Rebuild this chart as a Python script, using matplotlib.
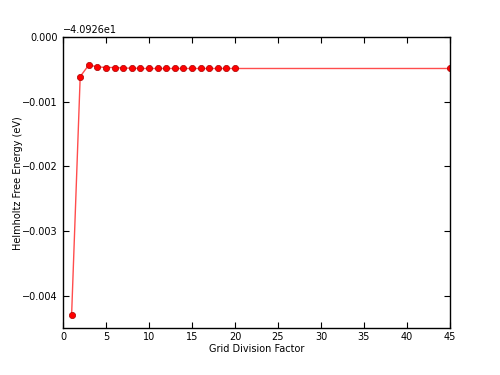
import numpy as np
from matplotlib import pyplot as plt
from matplotlib.ticker import ScalarFormatter

offset = -40.926

grid_factor = [1, 2, 3, 4, 5, 6, 7, 8, 9, 10, 11, 12, 13, 14, 15, 16, 17, 18, 19, 20, 45]
# free energy relative to offset (eV)
free_energy = [-0.00430, -0.00061, -0.00043, -0.00046, -0.00047, -0.00047, -0.00048,
               -0.00048, -0.000485, -0.000485, -0.000485, -0.000485, -0.000485,
               -0.000485, -0.000485, -0.000485, -0.000485, -0.000485, -0.000485,
               -0.000485, -0.000485]

energy = np.array(free_energy) + offset

fig = plt.figure(figsize=(5, 3.75), dpi=100)
fig.patch.set_facecolor('white')
ax = fig.add_axes([0.126, 0.125, 0.774, 0.776])

ax.plot(grid_factor, energy, '-', color='red', lw=1, alpha=0.7)
ax.plot(grid_factor, energy, 'o', color='red', markersize=4.5,
        markeredgecolor='#aa0000', markeredgewidth=0.5)

ax.set_xlim(0, 45)
ax.set_ylim(offset - 0.0045, offset + 0.0)
ax.set_xticks(np.arange(0, 46, 5))
ax.set_yticks(offset + np.array([-0.004, -0.003, -0.002, -0.001, 0.0]))

fmt = ScalarFormatter(useOffset=offset)
ax.yaxis.set_major_formatter(fmt)

ax.tick_params(direction='in', top=True, right=True, labelsize=7, length=4)
ax.tick_params(axis='x', pad=3)
ax.tick_params(axis='y', pad=4)
ax.yaxis.get_offset_text().set_fontsize(7)
for s in ax.spines.values():
    s.set_linewidth(1)

ax.set_xlabel('Grid Division Factor', fontsize=7, labelpad=1)
ax.set_ylabel('Helmholtz Free Energy (eV)', fontsize=7, labelpad=-1)

plt.savefig('out.png', dpi=100)
